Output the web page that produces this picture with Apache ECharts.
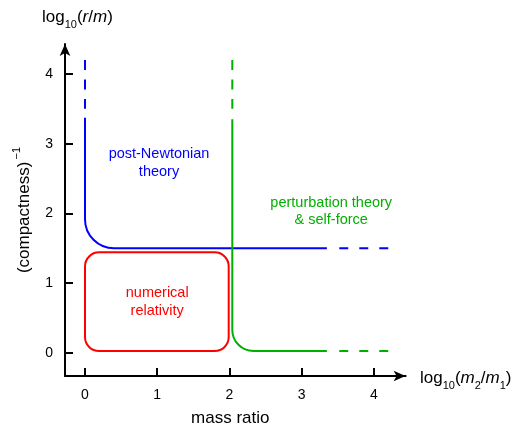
<!DOCTYPE html>
<html><head><meta charset="utf-8">
<script src="https://cdn.jsdelivr.net/npm/echarts@6/dist/echarts.min.js"></script>
<style>html,body{margin:0;padding:0;background:#fff}#c{width:517px;height:425px}</style>
</head><body><div id="c"></div>
<script>
// ---- axis data ----
const xTicks = [0, 1, 2, 3, 4];
const yTicks = [0, 1, 2, 3, 4];
const xRange = [-0.277, 4.44];
const yRange = [-0.334, 4.43];

// ---- post-Newtonian boundary (solid part with rounded corner + dashed extensions) ----
const pnSolid = [[0, 3.37], [0, 1.5], [3.35, 1.5]];
const pnDashUp = [[0, 4.2], [0, 3.5]];
const pnDashRight = [[4.2, 1.5], [3.52, 1.5]];

// ---- perturbation theory boundary ----
const ptSolid = [[2.04, 3.35], [2.04, 0.025], [3.35, 0.025]];
const ptDashUp = [[2.04, 4.2], [2.04, 3.5]];
const ptDashRight = [[4.2, 0.025], [3.52, 0.025]];

// ---- numerical relativity box [x0, y0, x1, y1] ----
const nrBox = [0, 0.024, 1.99, 1.44];

// ---- region labels ----
const regionNames = ['post-Newtonian\ntheory', 'numerical\nrelativity', 'perturbation theory\n& self-force'];
const regionX = [1.025, 1.0, 3.41];
const regionY = [2.72, 0.728, 2.03];

const BLUE = '#0000ff', GREEN = '#00b000', RED = '#ff0000';
const regionColors = [BLUE, RED, GREEN];
const FONT = 'Liberation Sans, Arial, Helvetica, sans-serif';

function cornerSeries(points, color, radius) {
  return {
    type: 'custom', coordinateSystem: 'cartesian2d', silent: true,
    data: [points[0].concat(points[1], points[2])],
    renderItem: function (params, api) {
      const p0 = api.coord([api.value(0), api.value(1)]);
      const pc = api.coord([api.value(2), api.value(3)]);
      const p1 = api.coord([api.value(4), api.value(5)]);
      function unit(a, b) { const dx = a[0] - b[0], dy = a[1] - b[1]; const l = Math.hypot(dx, dy); return [dx / l, dy / l]; }
      const d0 = unit(p0, pc), d1 = unit(p1, pc);
      const r = radius, k = 0.5523;
      const a = [pc[0] + d0[0] * r, pc[1] + d0[1] * r];
      const b = [pc[0] + d1[0] * r, pc[1] + d1[1] * r];
      const c1 = [pc[0] + d0[0] * r * (1 - k), pc[1] + d0[1] * r * (1 - k)];
      const c2 = [pc[0] + d1[0] * r * (1 - k), pc[1] + d1[1] * r * (1 - k)];
      const d = 'M' + p0.join(' ') + ' L' + a.join(' ') + ' C' + c1.join(' ') + ' ' + c2.join(' ') + ' ' + b.join(' ') + ' L' + p1.join(' ');
      return { type: 'path', shape: { pathData: d }, style: { stroke: color, lineWidth: 2, fill: null } };
    }
  };
}
function dashSeries(points, color, dash) {
  return {
    type: 'line', data: points, symbol: 'none', silent: true,
    lineStyle: { color: color, width: 2, type: dash }
  };
}

const chart = echarts.init(document.getElementById('c'), null, { renderer: 'canvas' });

const axisCommon = {
  type: 'value',
  splitLine: { show: false },
  axisLine: { show: true, onZero: false, symbol: ['none', 'arrow'], symbolSize: [8, 12], lineStyle: { color: '#000', width: 2 } },
};

const subStyle = { fontSize: 11, fontFamily: FONT, color: '#000', lineHeight: 1, height: 2, verticalAlign: 'bottom' };
const mainStyle = { fontSize: 17, fontFamily: FONT, color: '#000', lineHeight: 17 };
const italStyle = Object.assign({}, mainStyle, { fontStyle: 'italic' });

chart.setOption({
  animation: false,
  backgroundColor: '#fff',
  grid: { left: 65, top: 44, right: 111.4, bottom: 49, containLabel: false, outerBoundsMode: 'none' },
  xAxis: Object.assign({}, axisCommon, {
    min: xRange[0], max: xRange[1],
    name: 'mass ratio', nameLocation: 'middle', nameGap: 34,
    nameTextStyle: { fontSize: 17, fontFamily: FONT, color: '#000', padding: [0, 10, 0, 0] },
    axisTick: { show: true, inside: true, length: 8, customValues: xTicks, lineStyle: { color: '#000', width: 2 } },
    axisLabel: { customValues: xTicks, margin: 12, fontSize: 14, fontFamily: FONT, color: '#000' }
  }),
  yAxis: Object.assign({}, axisCommon, {
    min: yRange[0], max: yRange[1],
    name: '{n|(compactness)}{sp|\u2009\u22121}', nameLocation: 'middle', nameGap: 32, nameRotate: 90,
    nameTextStyle: {
      fontSize: 17, fontFamily: FONT, color: '#000',
      rich: {
        n: mainStyle,
        sp: { fontSize: 11, fontFamily: FONT, color: '#000', lineHeight: 1, height: 2, verticalAlign: 'top' }
      }
    },
    axisTick: { show: true, inside: true, length: 8, customValues: yTicks, lineStyle: { color: '#000', width: 2 } },
    axisLabel: { customValues: yTicks, margin: 12, fontSize: 14, fontFamily: FONT, color: '#000' }
  }),
  graphic: [
    { type: 'text', x: 42, y: 17, silent: true,
      style: { text: '{n|log}{s|10}{n|(}{i|r}{n|/}{i|m}{n|)}', verticalAlign: 'middle', align: 'left',
        rich: { n: mainStyle, i: italStyle, s: subStyle } } },
    { type: 'text', x: 420, y: 378, silent: true,
      style: { text: '{n|log}{s|10}{n|(}{i|m}{s|2}{n|/}{i|m}{s|1}{n|)}', verticalAlign: 'middle', align: 'left',
        rich: { n: mainStyle, i: italStyle, s: subStyle } } }
  ],
  series: [
    cornerSeries(pnSolid, BLUE, 29),
    dashSeries(pnDashUp, BLUE, [10, 9.5]),
    dashSeries(pnDashRight, BLUE, [9, 11]),
    cornerSeries(ptSolid, GREEN, 21),
    dashSeries(ptDashUp, GREEN, [10, 9.5]),
    dashSeries(ptDashRight, GREEN, [9, 11]),
    {
      type: 'custom', coordinateSystem: 'cartesian2d', silent: true,
      data: [nrBox],
      renderItem: function (params, api) {
        const a = api.coord([api.value(0), api.value(3)]);
        const b = api.coord([api.value(2), api.value(1)]);
        return { type: 'rect', shape: { x: a[0], y: a[1], width: b[0] - a[0], height: b[1] - a[1], r: 14 },
          style: { stroke: RED, lineWidth: 2, fill: null } };
      }
    },
    {
      type: 'custom', coordinateSystem: 'cartesian2d', silent: true,
      data: regionNames.map((n, i) => [regionX[i], regionY[i], i]),
      renderItem: function (params, api) {
        const p = api.coord([api.value(0), api.value(1)]);
        const i = api.value(2);
        return { type: 'text', x: p[0], y: p[1],
          style: { text: regionNames[i], fill: regionColors[i], fontSize: 14.5, fontFamily: FONT,
            align: 'center', verticalAlign: 'middle', lineHeight: 17.5 } };
      }
    }
  ]
});
</script></body></html>
